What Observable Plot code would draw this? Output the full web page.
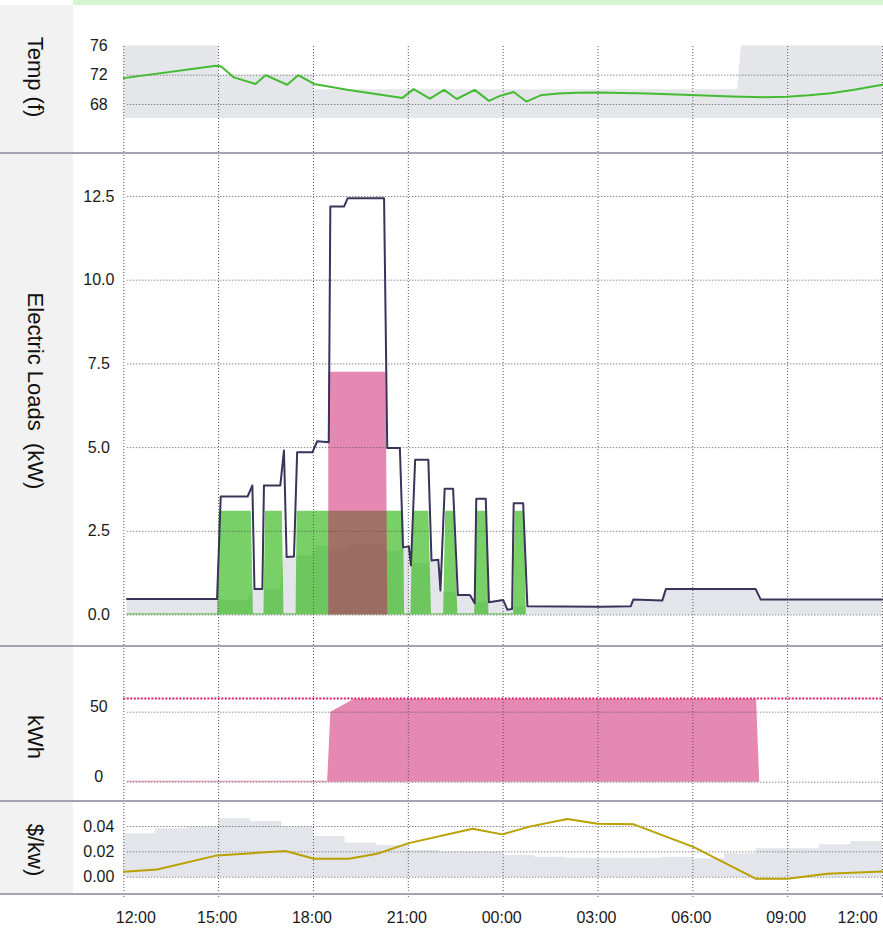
<!DOCTYPE html>
<html><head><meta charset="utf-8">
<script src="https://cdn.jsdelivr.net/npm/d3@7"></script>
<script src="https://cdn.jsdelivr.net/npm/@observablehq/plot@0.6"></script>
<style>
body{margin:0;background:#fff;font-family:"Liberation Sans",Arial,sans-serif;}
#wrap{position:relative;width:883px;height:930px;overflow:hidden;background:#fff;}
.side{position:absolute;left:0;top:5px;width:73px;height:888px;background:#f2f2f2;}
.topbar{position:absolute;left:73px;top:0;width:810px;height:5px;background:#d5f5d0;}
.lab{position:absolute;left:35px;transform:translate(-50%,-50%) rotate(90deg);font-size:22px;white-space:pre;color:#111;line-height:1;}
.sep{position:absolute;left:0;width:883px;height:2px;background:#a3a3b6;}
</style></head><body><div id="wrap"><div class="side"></div><div class="topbar"></div></div>
<script>
// ---------- data ----------
const xTickTimes = ["12:00","15:00","18:00","21:00","+00:00","+03:00","+06:00","+09:00","+12:00"];
const xTickLabels = ["12:00","15:00","18:00","21:00","00:00","03:00","06:00","09:00","12:00"];

const tempTimes = ["12:00","14:55","15:05","15:29","16:10","16:29","17:10","17:31","18:01","19:04","20:49","21:10","21:41","22:08","22:32","23:06","23:33","23:55","+00:20","+00:44","+01:11","+01:45","+02:21","+02:59","+04:34","+06:09","+07:15","+08:15","+08:59","+09:40","+10:22","+11:06","+12:00"];
const tempValues = [71.6,73.3,73.2,71.7,70.8,72.0,70.7,72.0,70.8,70.0,68.9,70.1,68.8,70.0,68.75,70.0,68.5,69.2,69.7,68.4,69.25,69.5,69.6,69.65,69.5,69.25,69.1,69.0,69.05,69.25,69.55,70.0,70.7];
const bandTimes = ["12:00","15:00","15:00","18:00","18:00","+07:25","+07:32","+12:00"];
const bandHigh = [76,76,72,72,70,70,76,76];
const bandLow = [66.1,66.1,66.1,66.1,66.1,66.1,66.1,66.1];
const tempTicks = [68,72,76];
const tempTickLabels = ["68","72","76"];
const tempGrid = [68,72];

const loadTimes = ["12:06","14:57","15:04","15:55","16:04","16:08","16:23","16:26","16:57","17:04","17:09","17:23","17:29","17:58","18:07","18:29","18:32","18:58","19:05","20:14","20:20","20:44","20:50","21:01","21:05","21:13","21:38","21:44","21:57","22:01","22:09","22:25","22:34","22:57","23:06","23:09","23:27","23:33","+00:00","+00:08","+00:17","+00:20","+00:38","+00:46","+03:05","+04:02","+04:07","+05:02","+05:09","+07:59","+08:09","+12:00"];
const loadTotal = [0.48,0.48,3.54,3.54,3.87,0.78,0.78,3.87,3.87,4.91,1.73,1.75,4.86,4.86,5.19,5.16,12.2,12.2,12.45,12.45,4.99,4.99,2.02,2.05,1.48,4.64,4.64,1.63,1.65,0.73,3.77,3.77,0.60,0.60,0.35,3.47,3.47,0.38,0.45,0.16,0.18,3.34,3.34,0.26,0.25,0.26,0.46,0.43,0.78,0.78,0.46,0.46];
const otherKw = [0.48,0.48,0.44,0.44,0.77,0.78,0.78,0.77,0.77,1.80,1.73,1.75,1.76,1.76,2.05,2.05,1.90,1.90,2.10,2.10,1.89,1.89,2.02,2.05,1.48,1.54,1.54,1.63,1.65,0.73,0.67,0.67,0.60,0.60,0.35,0.37,0.37,0.38,0.45,0.16,0.18,0.24,0.24,0.26,0.25,0.26,0.46,0.43,0.78,0.78,0.46,0.46];
const hvacTimes = ["12:06","14:58","15:01","16:02","16:06","16:26","16:29","17:01","17:04","17:27","17:29","20:51","20:53","21:05","21:09","21:39","21:44","22:07","22:11","22:27","22:34","23:06","23:09","23:29","23:33","+00:20","+00:23","+00:40","+00:44"];
const hvacKw = [0.04,0.04,3.1,3.1,0.04,0.04,3.1,3.1,0.04,0.04,3.1,3.1,0.04,0.04,3.1,3.1,0.04,0.04,3.1,3.1,0.04,0.04,3.1,3.1,0.04,0.04,3.1,3.1,0];
const evTimes = ["18:29","18:29","20:18","20:21"];
const evKw = [0,7.25,7.25,0];
const loadTicks = [0,2.5,5,7.5,10,12.5];
const loadTickLabels = ["0.0","2.5","5.0","7.5","10.0","12.5"];

const socTimes = ["12:06","18:27","18:33","19:17","+08:01","+08:07"];
const socKwh = [0.6,0.6,50,59,59,0];
const socLimit = [59.7];
const socTicks = [0,50];
const socTickLabels = ["0","50"];

const priceTimes = ["12:00","13:03","14:57","17:07","18:01","19:07","20:01","21:01","23:02","23:58","+00:52","+02:02","+02:59","+04:08","+06:02","+08:00","+09:00","+10:15","+12:00"];
const priceValues = [0.0043,0.0061,0.0172,0.0206,0.0145,0.0145,0.0185,0.0269,0.0383,0.0338,0.0401,0.0459,0.0422,0.0417,0.0237,-0.0013,-0.0013,0.0027,0.0045];
const rateTimes = ["12:00","13:00","14:00","15:00","16:00","17:00","18:00","19:00","20:00","21:00","22:00","+00:00","+01:00","+02:00","+05:00","+06:00","+07:00","+08:00","+10:00","+11:00","+12:00"];
const rateValues = [0.0343,0.0383,0.0396,0.0462,0.044,0.0396,0.0322,0.0269,0.025,0.0211,0.0198,0.0171,0.0158,0.015,0.0158,0.0145,0.0185,0.0224,0.0256,0.0282,0.0308];
const priceTicks = [0,0.02,0.04];
const priceTickLabels = ["0.00","0.02","0.04"];

// ---------- helpers ----------
const T = s => { const nd = s.startsWith("+"); const [h,m] = s.replace("+","").split(":").map(Number); return new Date(Date.UTC(2024,5,nd?2:1,h,m)); };
const series = (times, vals) => times.map((s,i)=>({t:T(s), v:vals[i]}));
const xScale = () => ({type:"utc", domain:[T("12:00"),T("+12:00")], range:[123.3,882], axis:null});
const FS = 16;
const styleObj = {background:"transparent", overflow:"visible", fontFamily:'"Liberation Sans", Arial, sans-serif', fontSize:FS+"px", color:"#1a1a1a"};
const gridV = () => Plot.ruleX(xTickTimes.map(T), {stroke:"#555", strokeWidth:1, strokeDasharray:"1,2"});
const gridH = vals => Plot.ruleY(vals, {stroke:"#555", strokeWidth:1, strokeDasharray:"1,2", insetLeft:4});
const yLabels = (vals, labels, dy=0) => Plot.text(vals.map((v,i)=>({v, label:labels[i]})), {y:"v", text:"label", frameAnchor:"left", dx:-25, dy, textAnchor:"middle", fontSize:FS, fill:"#1a1a1a"});

const wrap = document.getElementById("wrap");
function place(el, top){ el.style.position="absolute"; el.style.left="0px"; el.style.top=top+"px"; wrap.appendChild(el); }
function label(text, y){ const d=document.createElement("div"); d.className="lab"; d.textContent=text; d.style.top=y+"px"; wrap.appendChild(d); }
function sep(y){ const d=document.createElement("div"); d.className="sep"; d.style.top=y+"px"; wrap.appendChild(d); }

// ---------- Temp panel ----------
const band = bandTimes.map((s,i)=>({t:T(s), lo:bandLow[i], hi:bandHigh[i]}));
place(Plot.plot({
  width:883, height:147, marginTop:41, marginBottom:0, marginLeft:123.3, marginRight:1,
  style:styleObj,
  x:xScale(), y:{domain:[66,76], range:[113.65,40.4], axis:null},
  marks:[
    Plot.areaY(band, {x:"t", y1:"lo", y2:"hi", fill:"#e5e6ea"}),
    gridH(tempGrid), gridV(),
    Plot.line(series(tempTimes,tempValues), {x:"t", y:"v", stroke:"#44bb33", strokeWidth:2, curve:"linear"}),
    yLabels(tempTicks, tempTickLabels)
  ]
}), 5);

// ---------- Electric loads panel ----------
place(Plot.plot({
  width:883, height:493, marginTop:0, marginBottom:0, marginLeft:123.3, marginRight:1,
  style:styleObj,
  x:xScale(), y:{domain:[0,12.5], range:[462.5,44], axis:null},
  marks:[
    Plot.areaY(series(loadTimes,otherKw), {x:"t", y:"v", fill:"#e4e5ea"}),
    Plot.areaY(series(hvacTimes,hvacKw), {x:"t", y:"v", fill:"#1eb100", fillOpacity:0.6}),
    Plot.areaY(series(evTimes,evKw), {x:"t", y:"v", fill:"#cc1166", fillOpacity:0.5}),
    gridH(loadTicks), gridV(),
    Plot.line(series(loadTimes,loadTotal), {x:"t", y:"v", stroke:"#3a345a", strokeWidth:2}),
    yLabels(loadTicks, loadTickLabels)
  ]
}), 152);

// ---------- kWh panel ----------
place(Plot.plot({
  width:883, height:155, marginTop:0, marginBottom:0, marginLeft:123.3, marginRight:1,
  style:styleObj,
  x:xScale(), y:{domain:[0,50], range:[136.7,66.7], axis:null},
  marks:[
    Plot.areaY(series(socTimes,socKwh), {x:"t", y:"v", fill:"#cc1166", fillOpacity:0.5}),
    gridH(socTicks), gridV(),
    Plot.ruleY(socLimit, {stroke:"#dd1a6e", strokeWidth:2, strokeDasharray:"2,1.5"}),
    yLabels(socTicks, socTickLabels, -5)
  ]
}), 645);

// ---------- $/kw panel ----------
const xt = xTickTimes.map((s,i)=>({t:T(s), label:xTickLabels[i]}));
place(Plot.plot({
  width:883, height:130, marginTop:0, marginBottom:33, marginLeft:123.3, marginRight:1,
  style:styleObj,
  x:xScale(), y:{domain:[0,0.04], range:[76.7,26], axis:null},
  marks:[
    Plot.areaY(series(rateTimes,rateValues), {x:"t", y:"v", fill:"#e4e5ea", curve:"step-after"}),
    gridH(priceTicks), gridV(),
    Plot.line(series(priceTimes,priceValues), {x:"t", y:"v", stroke:"#b8a100", strokeWidth:2}),
    yLabels(priceTicks, priceTickLabels),
    Plot.text(xt.slice(1,-1), {x:"t", text:"label", frameAnchor:"bottom", dy:25, dx:-1.5, fontSize:FS, fill:"#1a1a1a"}),
    Plot.text(xt.slice(0,1), {x:"t", text:"label", frameAnchor:"bottom", dy:25, dx:12, fontSize:FS, fill:"#1a1a1a"}),
    Plot.text(xt.slice(-1), {x:"t", text:"label", frameAnchor:"bottom", dy:25, dx:-25, fontSize:FS, fill:"#1a1a1a"})
  ]
}), 800);

// ---------- side labels & separators ----------
label("Temp (f)", 77);
label("Electric Loads  (kW)", 391);
label("kWh", 737);
label("$/kw)", 850);
sep(152); sep(645); sep(800); sep(892.5);
</script></body></html>
